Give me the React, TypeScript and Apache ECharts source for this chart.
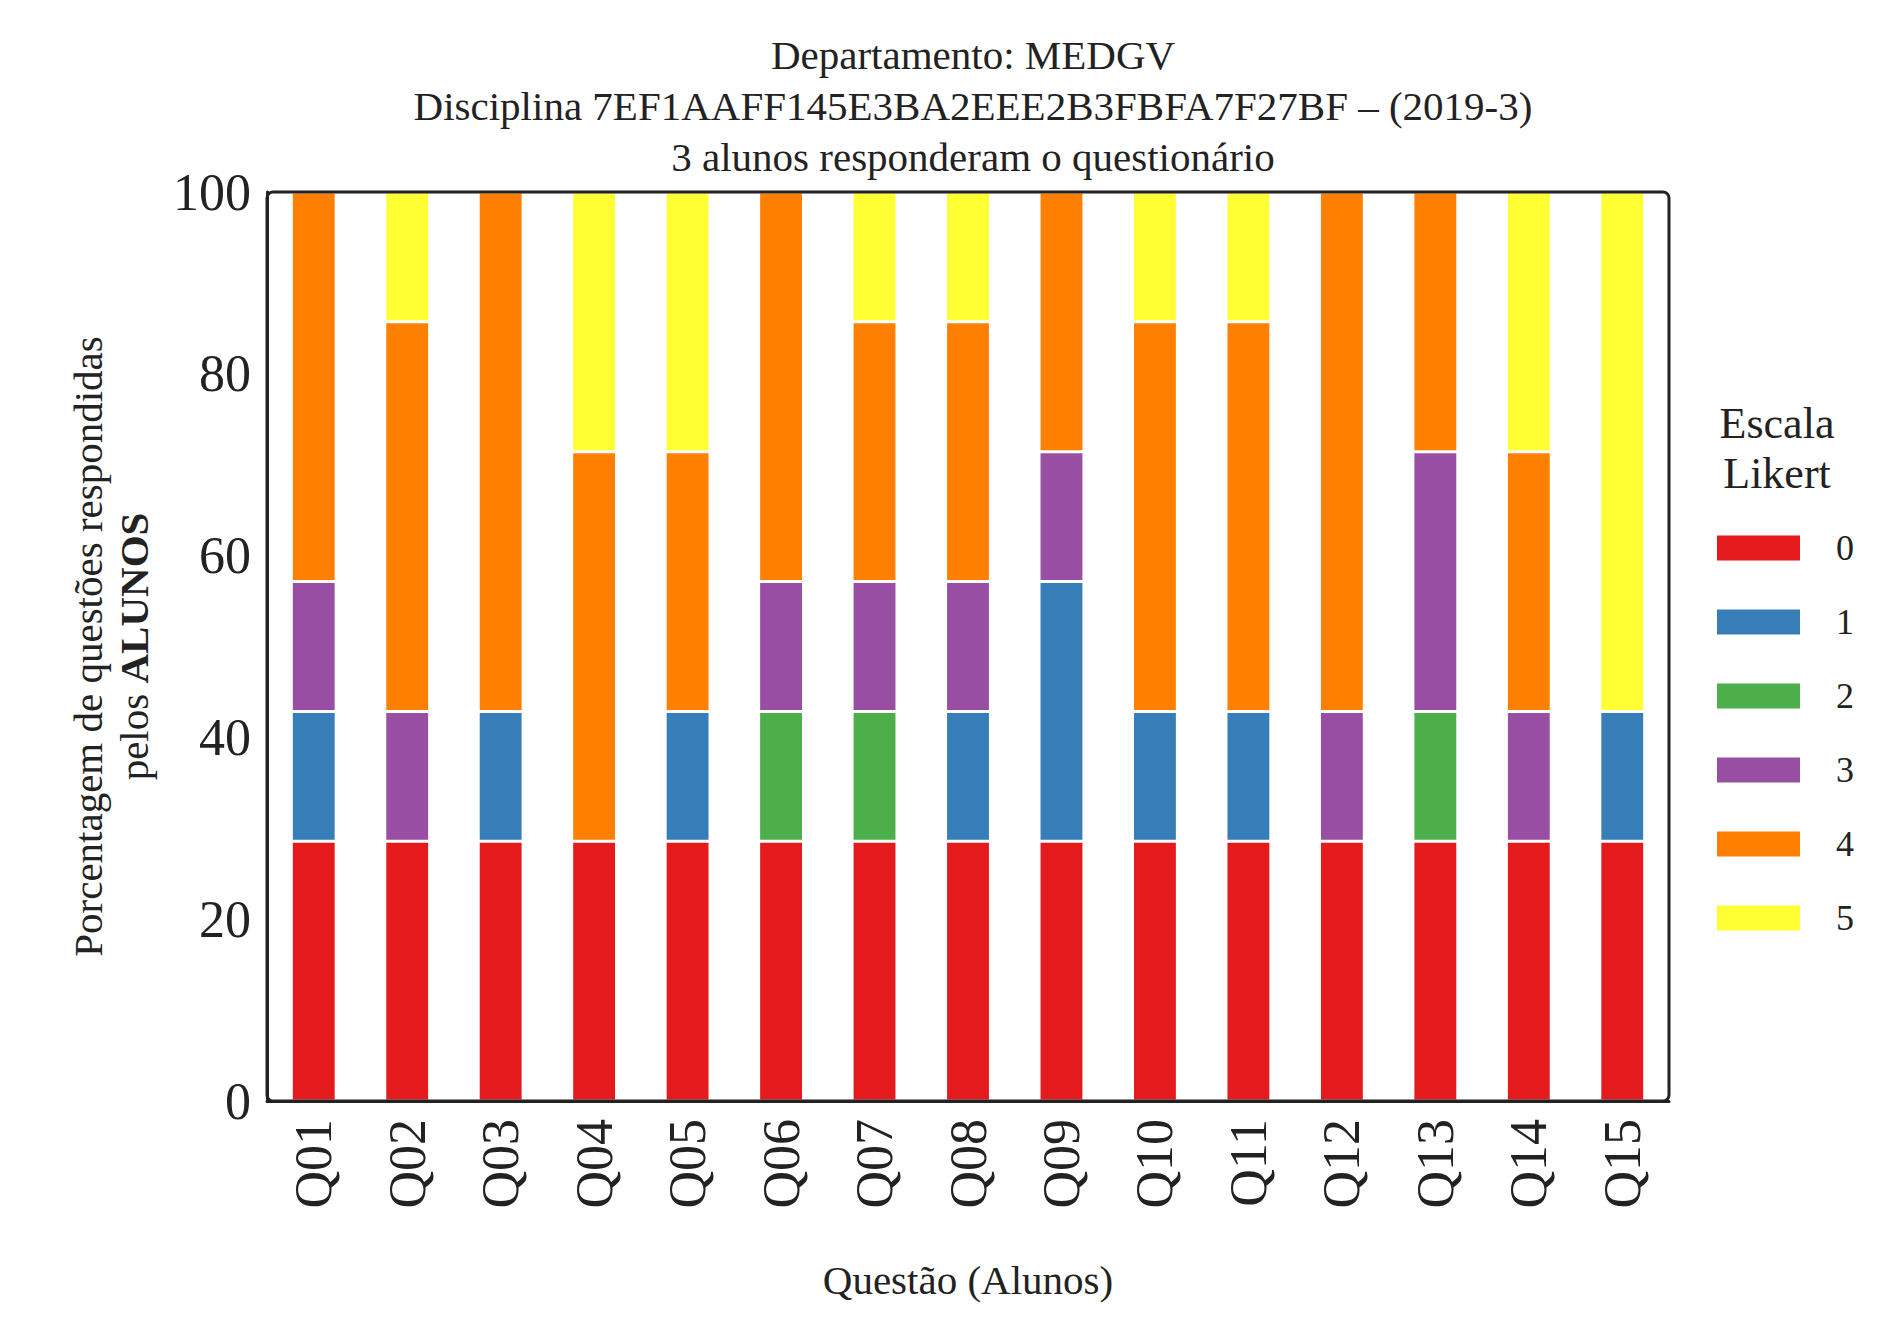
import { useEffect, useRef } from 'react';
import * as echarts from 'echarts';

const F = '"Liberation Serif", "DejaVu Serif", serif';

const categories = ['Q01', 'Q02', 'Q03', 'Q04', 'Q05', 'Q06', 'Q07', 'Q08', 'Q09', 'Q10', 'Q11', 'Q12', 'Q13', 'Q14', 'Q15'];
const likertNames = ['0', '1', '2', '3', '4', '5'];
const likertColors = ['#e41a1c', '#377eb8', '#4daf4a', '#984ea3', '#ff7f00', '#ffff33'];
const yTicks = [0, 20, 40, 60, 80, 100];

const s0 = [28.57, 28.57, 28.57, 28.57, 28.57, 28.57, 28.57, 28.57, 28.57, 28.57, 28.57, 28.57, 28.57, 28.57, 28.57];
const s1 = [14.29, 0, 14.29, 0, 14.29, 0, 0, 14.29, 28.57, 14.29, 14.29, 0, 0, 0, 14.29];
const s2 = [0, 0, 0, 0, 0, 14.29, 14.29, 0, 0, 0, 0, 0, 14.29, 0, 0];
const s3 = [14.29, 14.29, 0, 0, 0, 14.29, 14.29, 14.29, 14.29, 0, 0, 14.29, 28.57, 14.29, 0];
const s4 = [42.86, 42.86, 57.14, 42.86, 28.57, 42.86, 28.57, 28.57, 28.57, 42.86, 42.86, 57.14, 28.57, 28.57, 0];
const s5 = [0, 14.29, 0, 28.57, 28.57, 0, 14.29, 14.29, 0, 14.29, 14.29, 0, 0, 28.57, 57.14];
const seriesValues = [s0, s1, s2, s3, s4, s5];

export default function App() {
  const ref = useRef<HTMLDivElement>(null);

  useEffect(() => {
    if (!ref.current) return;
    document.body.style.margin = '0';
    const chart = echarts.init(ref.current, undefined, { renderer: 'svg' });
    chart.setOption({
      animation: false,
      backgroundColor: '#fff',
      title: {
        text: 'Departamento: MEDGV\nDisciplina 7EF1AAFF145E3BA2EEE2B3FBFA7F27BF – (2019-3)\n3 alunos responderam o questionário',
        left: 968,
        top: 24,
        textAlign: 'center',
        textStyle: { fontFamily: F, fontSize: 41, fontWeight: 'normal', color: '#222', lineHeight: 51 },
      },
      grid: { left: 267, right: 223, top: 192, bottom: 222 },
      legend: {
        orient: 'vertical',
        left: 1710,
        top: 525,
        itemWidth: 85,
        itemHeight: 27,
        itemGap: 38,
        icon: 'rect',
        textStyle: { fontFamily: F, fontSize: 36, color: '#222', padding: [0, 0, 0, 30] },
        data: likertNames,
      },
      graphic: [
        {
          type: 'rect',
          shape: { x: 1692, y: 386, width: 180, height: 524, r: 6 },
          style: { fill: '#fff', stroke: '#ccc', lineWidth: 2 },
          z: -1,
        },
        {
          type: 'text',
          x: 1777,
          y: 398,
          style: { text: 'Escala\nLikert', fontFamily: F, fontSize: 44, fill: '#222', align: 'center', lineHeight: 50 },
        },
      ],
      xAxis: {
        type: 'category',
        data: categories,
        name: 'Questão (Alunos)',
        nameLocation: 'middle',
        nameGap: 158,
        nameTextStyle: { fontFamily: F, fontSize: 41, color: '#222' },
        axisLine: { lineStyle: { color: '#222', width: 3 } },
        axisTick: { show: false },
        axisLabel: { rotate: 90, fontFamily: F, fontSize: 52, color: '#222', margin: 18 },
      },
      yAxis: {
        type: 'value',
        min: 0,
        max: 100,
        interval: 20,
        name: '{a|Porcentagem de questões respondidas}\n{a|pelos }{b|ALUNOS}',
        nameLocation: 'middle',
        nameGap: 110,
        nameTextStyle: {
          fontFamily: F,
          color: '#222',
          rich: {
            a: { fontFamily: F, fontSize: 41, color: '#222', lineHeight: 46 },
            b: { fontFamily: F, fontSize: 41, color: '#222', fontWeight: 'bold', lineHeight: 46 },
          },
        },
        axisLine: { show: true, lineStyle: { color: '#222', width: 3 } },
        axisTick: { show: false },
        splitLine: { show: false },
        axisLabel: {
          fontFamily: F,
          fontSize: 52,
          color: '#222',
          margin: 16,
          formatter: (v: number) => (yTicks.includes(v) ? String(v) : ''),
        },
      },
      series: seriesValues.map((vals, i) => ({
        name: likertNames[i],
        type: 'bar',
        stack: 'total',
        barWidth: '48%',
        data: vals,
        itemStyle: { color: likertColors[i], borderColor: '#fff', borderWidth: 1.5 },
      })),
    });
    // frame on top/right
    chart.setOption({
      graphic: [
        {
          type: 'rect',
          shape: { x: 267, y: 192, width: 1402, height: 909 },
          style: { fill: 'none', stroke: '#222', lineWidth: 3 },
          z: 10,
        },
      ],
    });
    return () => chart.dispose();
  }, []);

  return <div ref={ref} style={{ width: 1892, height: 1323 }} />;
}
